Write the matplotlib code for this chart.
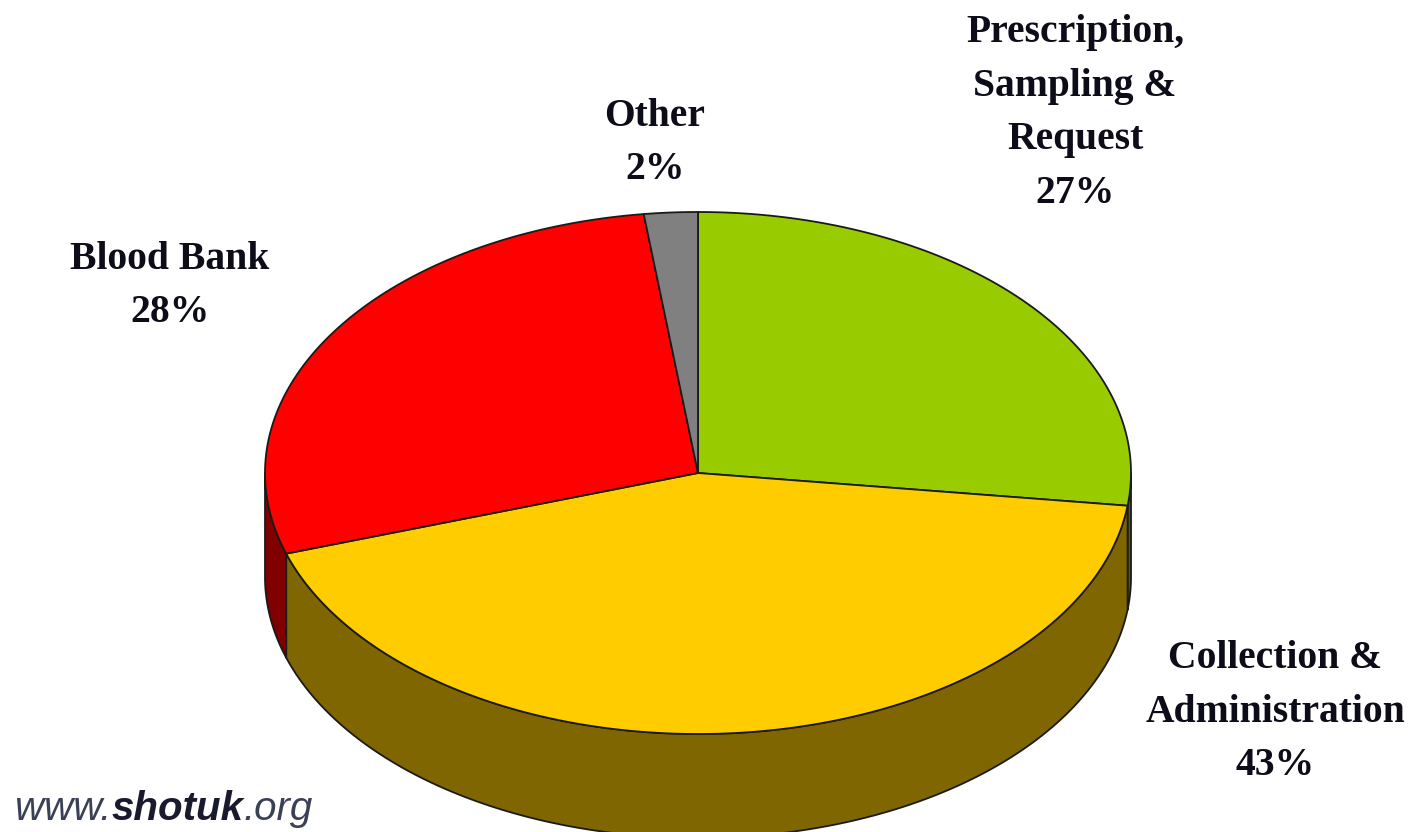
import matplotlib
matplotlib.use("Agg")
import matplotlib.pyplot as plt
from matplotlib.patches import Polygon
import numpy as np

# slice data, clockwise from 12 o'clock
categories = ["Prescription,\nSampling &\nRequest", "Collection &\nAdministration",
              "Blood Bank", "Other"]
shares = [27, 43, 28, 2]
top_colors = ["#99cc00", "#ffcc00", "#ff0000", "#808080"]
side_colors = ["#4d6600", "#806600", "#800000", "#404040"]
label_pos = [(1075, 113), (1275, 712), (170, 286), (655, 143)]

# geometry of the tilted pie in pixels
CX, CY = 698, 473
RX, RY = 433, 261
DEPTH = 104


def ellipse_pts(t1, t2, dy=0, n=200):
    t = np.radians(np.linspace(t1, t2, n))
    return np.column_stack([CX + RX * np.cos(t), CY - RY * np.sin(t) + dy])


def draw_pie(ax, values):
    fr = np.array(values, dtype=float) / np.sum(values)
    ends = np.cumsum(fr)
    starts = ends - fr
    th1 = 90 - 360 * starts
    th2 = 90 - 360 * ends

    # front walls
    for a, b, c in zip(th1, th2, side_colors):
        lo, hi = max(b, -180), min(a, 0)
        if lo >= hi:
            continue
        top = ellipse_pts(hi, lo)
        bot = ellipse_pts(lo, hi, dy=DEPTH)
        ax.add_patch(Polygon(np.vstack([top, bot]), closed=True, facecolor=c,
                             edgecolor="#1a1a1a", linewidth=1.3, joinstyle="round"))

    # top faces
    for a, b, c in zip(th1, th2, top_colors):
        pts = np.vstack([[CX, CY], ellipse_pts(a, b)])
        ax.add_patch(Polygon(pts, closed=True, facecolor=c,
                             edgecolor="#1a1a1a", linewidth=1.3, joinstyle="round"))


fig = plt.figure(figsize=(14.12, 8.32), dpi=100)
ax = fig.add_axes([0, 0, 1, 1])
ax.set_xlim(0, 1412)
ax.set_ylim(832, 0)
ax.axis("off")

draw_pie(ax, shares)

for name, val, (x, y) in zip(categories, shares, label_pos):
    ax.text(x, y, f"{name}\n{val}%", ha="center", va="center", multialignment="center",
            fontsize=28.5, fontweight="bold", family="Liberation Serif",
            color="#0d0d1a", linespacing=1.6)

# watermark
renderer = fig.canvas.get_renderer()
x = 15
for part, wt in [("www.", "normal"), ("shotuk", "bold"), (".org", "normal")]:
    t = ax.text(x, 820, part, ha="left", va="baseline", fontsize=29, style="italic",
                fontweight=wt, family="Liberation Sans",
                color="#1a1a2e" if wt == "bold" else "#3a4055")
    bb = t.get_window_extent(renderer=renderer)
    x += bb.width

fig.savefig("out.png", dpi=100)
plt.close(fig)
